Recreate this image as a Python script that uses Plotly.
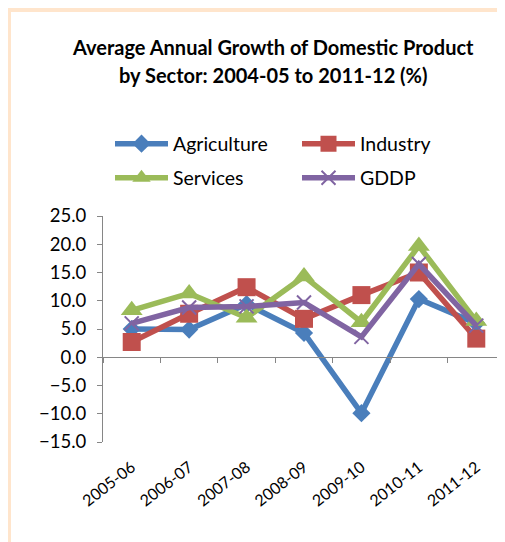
import plotly.graph_objects as go

years = ["2005-06", "2006-07", "2007-08", "2008-09", "2009-10", "2010-11", "2011-12"]
agriculture = [5.0, 4.9, 9.4, 4.3, -9.9, 10.3, 6.0]
industry = [2.7, 7.7, 12.4, 6.8, 11.0, 15.0, 3.3]
services = [8.3, 11.3, 7.0, 14.3, 6.2, 19.7, 6.4]
gddp = [6.0, 8.8, 9.0, 9.7, 3.6, 16.5, 5.6]
y_ticks = [-15, -10, -5, 0, 5, 10, 15, 20, 25]

FONT = "Lato"
W, H = 497, 534
L, R, T, B = 95, 0, 208, 100
PW, PH = W - L - R, H - T - B

def px_x(px):
    return (px - L) / PW

def px_y(py):
    return (H - B - py) / PH

fig = go.Figure()

series = [
    ("Agriculture", agriculture, "#4A7EBB", dict(symbol="diamond", size=14), "legend"),
    ("Industry", industry, "#C0504D", dict(symbol="square", size=18), "legend"),
    ("Services", services, "#9BBB59", dict(symbol="triangle-up", size=19), "legend2"),
    ("GDDP", gddp, "#8064A2", dict(symbol="x-thin", size=14, line=dict(width=2, color="#8064A2")), "legend2"),
]
for name, vals, color, marker, leg in series:
    m = dict(color=color, **marker)
    fig.add_trace(go.Scatter(
        x=years, y=vals, name=name, mode="lines+markers",
        line=dict(color=color, width=5.5), marker=m, legend=leg,
        xaxis="x", yaxis="y",
    ))

# invisible helper trace for the label axis
fig.add_trace(go.Scatter(x=years, y=agriculture, xaxis="x2", yaxis="y",
                         mode="lines", opacity=0, showlegend=False, hoverinfo="skip"))

ymin, ymax = -15, 25
zero_pos = (0 - ymin) / (ymax - ymin)

leg_common = dict(orientation="h", xref="container", yref="container",
                  yanchor="middle", xanchor="left", entrywidth=119, entrywidthmode="pixels",
                  font=dict(size=19.5, family=FONT), bgcolor="rgba(0,0,0,0)", itemwidth=53)

fig.update_layout(
    width=W, height=H,
    margin=dict(l=L, r=R, t=T, b=B, pad=0, autoexpand=False),
    paper_bgcolor="#FFE5CC",
    plot_bgcolor="rgba(0,0,0,0)",
    font=dict(family=FONT, color="#000000"),
    xaxis=dict(type="category", categoryorder="array", categoryarray=years,
               range=[-0.5, 6.5], anchor="free", position=zero_pos,
               showline=True, linecolor="#868686", linewidth=1,
               ticks="outside", tickson="boundaries", ticklen=5, tickcolor="#868686",
               showticklabels=False, showgrid=False, zeroline=False, automargin=False),
    xaxis2=dict(type="category", categoryorder="array", categoryarray=years,
                range=[-0.5, 6.5], overlaying="x", anchor="y", side="bottom",
                showline=False, ticks="", showgrid=False, zeroline=False,
                tickangle=-38, tickfont=dict(size=16, family=FONT),
                ticklabelstandoff=12, automargin=False),
    yaxis=dict(range=[ymin, ymax], tickvals=y_ticks, tickformat=".1f",
               showline=True, linecolor="#868686", linewidth=1,
               ticks="outside", ticklen=5, tickcolor="#868686",
               showgrid=False, zeroline=False, tickfont=dict(size=18.5, family=FONT),
               ticklabelstandoff=7, automargin=False),
    legend=dict(x=102 / W, y=(H - 136) / H, **leg_common),
    legend2=dict(x=102 / W, y=(H - 170) / H, **leg_common),
    shapes=[dict(type="rect", xref="paper", yref="paper", layer="below",
                 x0=px_x(3), x1=px_x(W + 2), y0=px_y(4), y1=px_y(H + 2),
                 fillcolor="#FFFFFF", line=dict(width=0))],
    annotations=[
        dict(text="<b>Average Annual Growth of Domestic Product</b>", xref="paper", yref="paper",
             x=px_x(265), y=px_y(39), xanchor="center", yanchor="middle", showarrow=False,
             font=dict(size=20, family=FONT)),
        dict(text="<b>by Sector: 2004-05 to 2011-12 (%)</b>", xref="paper", yref="paper",
             x=px_x(265), y=px_y(67), xanchor="center", yanchor="middle", showarrow=False,
             font=dict(size=20, family=FONT)),
    ],
    showlegend=True,
)

fig.write_html("out.html")
